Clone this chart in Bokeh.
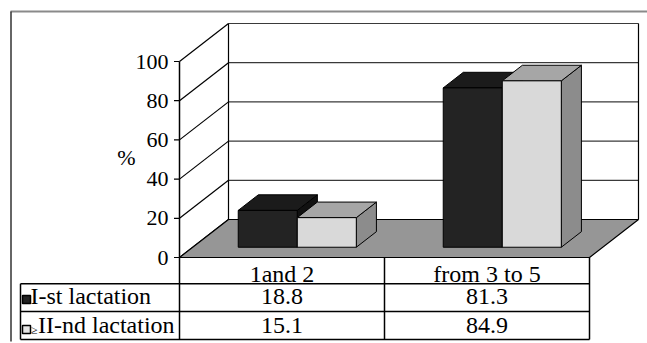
from bokeh.plotting import figure
from bokeh.models import Range1d
from bokeh.embed import file_html
from bokeh.resources import INLINE
from bokeh.core.properties import value

# ---------------- data ----------------
categories = ["1and 2", "from 3 to 5"]
series_names = ["I-st lactation", "II-nd lactation"]
first_lactation = [18.8, 81.3]
second_lactation = [15.1, 84.9]
y_ticks = [0, 20, 40, 60, 80, 100]
y_tick_labels = ["0", "20", "40", "60", "80", "100"]
y_axis_title = "%"
ge_prefix = "\u2265"

series_values = [first_lactation, second_lactation]
series_front = ["#232323", "#d9d9d9"]
series_top = ["#1b1b1b", "#a6a6a6"]
series_side = ["#111111", "#8c8c8c"]
key_fill = ["#222222", "#e6e6e6"]

# ---------------- layout (pixels) ----------------
W, H = 647, 343
AX_PX = 179.0        # front value axis, px
CAT_PX = 205.0       # one category width on the front plane, px
ZERO_PY = 257.0      # value 0 on the front plane, px
UNIT_PY = 1.96       # px per percent
DEPTH_DX, DEPTH_DY = 49.0, 38.0
BAR_FRONT, BAR_BACK = 0.27, 0.68
BAR_START, BAR_W = 0.222, 0.288
FONT = "Liberation Serif, 'Times New Roman', Times, serif"


def X(px):
    return (px - AX_PX) / CAT_PX


def Y(py):
    return (ZERO_PY - py) / UNIT_PY


ddx = DEPTH_DX / CAT_PX
ddy = DEPTH_DY / UNIT_PY
YMAX = y_ticks[-1]
NC = len(categories)

p = figure(width=W, height=H,
           x_range=Range1d(X(0), X(W)), y_range=Range1d(Y(H), Y(0)),
           output_backend="svg", toolbar_location=None, min_border=0,
           x_axis_location=None, y_axis_location=None)
p.outline_line_color = None
p.grid.visible = False
p.background_fill_color = "white"
p.border_fill_color = "white"

# ---- back wall ----
p.quad(left=[ddx], right=[NC + ddx], bottom=[ddy], top=[YMAX + ddy],
       fill_color="white", line_color=None)
p.segment(x0=[ddx] * len(y_ticks), y0=[v + ddy for v in y_ticks],
          x1=[NC + ddx] * len(y_ticks), y1=[v + ddy for v in y_ticks],
          line_color="#3a3a3a", line_width=1.2)
p.segment(x0=[ddx, NC + ddx], y0=[ddy, ddy], x1=[ddx, NC + ddx],
          y1=[YMAX + ddy, YMAX + ddy], line_color="black", line_width=1.2)

# ---- left wall diagonals ----
p.segment(x0=[0] * len(y_ticks), y0=y_ticks, x1=[ddx] * len(y_ticks),
          y1=[v + ddy for v in y_ticks], line_color="black", line_width=1.2)

# ---- floor ----
p.patch(x=[0, ddx, NC + ddx, NC], y=[0, ddy, ddy, 0],
        fill_color="#969696", line_color="black", line_width=1.2)

# ---- bars ----
d = BAR_BACK - BAR_FRONT
for i in range(NC):
    for s, vals in enumerate(series_values):
        v = vals[i]
        x0 = i + BAR_START + s * BAR_W + BAR_FRONT * ddx
        x1 = x0 + BAR_W
        y0 = BAR_FRONT * ddy
        y1 = y0 + v
        ox, oy = d * ddx, d * ddy
        p.patch(x=[x1, x1 + ox, x1 + ox, x1], y=[y0, y0 + oy, y1 + oy, y1],
                fill_color=series_side[s], line_color="black", line_width=1)
        p.patch(x=[x0, x0 + ox, x1 + ox, x1], y=[y1, y1 + oy, y1 + oy, y1],
                fill_color=series_top[s], line_color="black", line_width=1)
        p.quad(left=[x0], right=[x1], bottom=[y0], top=[y1],
               fill_color=series_front[s], line_color="black", line_width=1)

# ---- value axis ----
p.segment(x0=[0], y0=[0], x1=[0], y1=[YMAX], line_color="black", line_width=1.5)
p.segment(x0=[X(173.5)] * len(y_ticks), y0=y_ticks, x1=[0] * len(y_ticks), y1=y_ticks,
          line_color="black", line_width=1.2)
p.text(x=[X(168)] * len(y_ticks), y=y_ticks, text=y_tick_labels,
       text_font=value(FONT), text_font_size="22px", text_align="right",
       text_baseline="middle", text_color="black")
p.text(x=[X(126)], y=[Y(157)], text=[y_axis_title], text_font=value(FONT),
       text_font_size="22px", text_align="center", text_baseline="middle",
       text_color="black")

# ---- data table ----
row_lines = [Y(283.3), Y(311), Y(339)]
p.segment(x0=[X(20)] * 3, y0=row_lines, x1=[NC] * 3, y1=row_lines,
          line_color="black", line_width=1.5)
p.segment(x0=list(range(NC + 1)), y0=[0] * (NC + 1), x1=list(range(NC + 1)),
          y1=[Y(339)] * (NC + 1), line_color="black", line_width=1.5)
p.segment(x0=[X(20)], y0=[Y(283.3)], x1=[X(20)], y1=[Y(339)],
          line_color="black", line_width=1.5)

TABLE_FS = "24px"
centers = [i + 0.5 for i in range(NC)]
p.text(x=centers, y=[Y(273.5)] * NC, text=categories, text_font=value(FONT),
       text_font_size=TABLE_FS, text_align="center", text_baseline="middle",
       text_color="black")
row_mid = [Y(295.5), Y(324.5)]
for s, vals in enumerate(series_values):
    p.text(x=centers, y=[row_mid[s]] * NC, text=[f"{v:.1f}" for v in vals],
           text_font=value(FONT), text_font_size=TABLE_FS, text_align="center",
           text_baseline="middle", text_color="black")

# legend keys
key_top = [Y(295), Y(325)]
key_bot = [Y(303), Y(333)]
p.quad(left=[X(22)] * 2, right=[X(30)] * 2, bottom=key_bot, top=key_top,
       fill_color=key_fill, line_color="black", line_width=1.5)
p.text(x=[X(30)], y=[row_mid[0]], text=[series_names[0]], text_font=value(FONT),
       text_font_size=TABLE_FS, text_align="left", text_baseline="middle",
       text_color="black")
p.text(x=[X(30.5)], y=[Y(329)], text=[ge_prefix], text_font=value(FONT),
       text_font_size="12px", text_align="left", text_baseline="middle",
       text_color="black")
p.text(x=[X(37.5)], y=[row_mid[1]], text=[series_names[1]], text_font=value(FONT),
       text_font_size=TABLE_FS, text_align="left", text_baseline="middle",
       text_color="black")

# ---- outer frame ----
p.segment(x0=[X(10)], y0=[Y(11)], x1=[X(647)], y1=[Y(11)],
          line_color="#8a8a8a", line_width=2)
p.segment(x0=[X(10.5)], y0=[Y(11)], x1=[X(10.5)], y1=[Y(341)],
          line_color="#333333", line_width=1.5)

open("out.html", "w").write(file_html(p, INLINE))
